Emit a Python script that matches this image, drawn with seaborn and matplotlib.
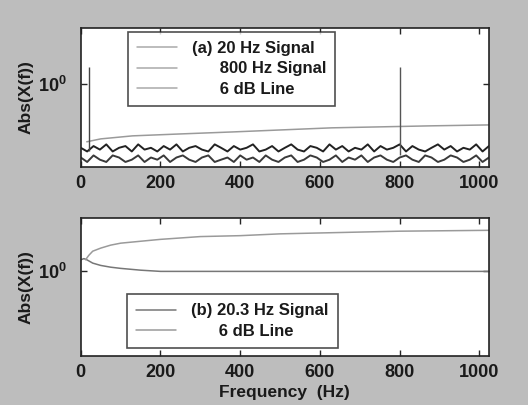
#!/usr/bin/env python3

import numpy as np
import pandas
import seaborn as sns
import matplotlib
matplotlib.use("Agg")
import matplotlib.pyplot as plt
from matplotlib.ticker import NullLocator

# ---- data ----

# (a) noise floor sampled every 16 Hz from 0 to 1024 Hz
freq_a = np.arange(0, 1040, 16)
signal_20hz = [
    0.29, 0.27, 0.30, 0.28, 0.31, 0.27, 0.29, 0.30, 0.27, 0.31, 0.28, 0.29, 0.27, 0.30, 0.28, 0.31,
    0.27, 0.29, 0.30, 0.28, 0.27, 0.31, 0.29, 0.27, 0.30, 0.28, 0.29, 0.31, 0.27, 0.28, 0.30, 0.27,
    0.29, 0.31, 0.28, 0.27, 0.30, 0.29, 0.27, 0.31, 0.28, 0.30, 0.27, 0.29, 0.28, 0.31, 0.27, 0.30,
    0.28, 0.29, 0.31, 0.27, 0.30, 0.28, 0.27, 0.29, 0.31, 0.28, 0.30, 0.27, 0.29, 0.28, 0.31, 0.27, 0.30,
]
signal_800hz = [
    0.24, 0.22, 0.25, 0.23, 0.22, 0.25, 0.24, 0.22, 0.23, 0.25, 0.22, 0.24, 0.23, 0.25, 0.22, 0.24,
    0.25, 0.23, 0.22, 0.24, 0.25, 0.22, 0.23, 0.24, 0.22, 0.25, 0.23, 0.24, 0.22, 0.25, 0.23, 0.22,
    0.24, 0.25, 0.22, 0.23, 0.25, 0.24, 0.22, 0.23, 0.25, 0.22, 0.24, 0.23, 0.25, 0.22, 0.24, 0.25,
    0.23, 0.22, 0.24, 0.25, 0.23, 0.22, 0.25, 0.24, 0.22, 0.23, 0.25, 0.24, 0.22, 0.23, 0.25, 0.22, 0.24,
]
# spectral peaks of the two tones
peak_freqs = [20, 800]
peak_base = [0.27, 0.25]
peak_top = [1.41, 1.41]

# (a) 6 dB threshold line
db_freq_a = [15, 50, 130, 250, 380, 630, 880, 1024]
db_line_a = [0.326, 0.345, 0.366, 0.380, 0.395, 0.428, 0.445, 0.453]

# (b) leaked 20.3 Hz tone and its 6 dB line
freq_b = [0, 8, 15, 20, 30, 50, 75, 100, 150, 200, 300, 400, 500, 600, 700, 800, 900, 1024]
signal_203hz = [1.10, 1.11, 1.10, 1.09, 1.07, 1.05, 1.035, 1.025, 1.01, 1.00, 1.00, 1.00,
                1.00, 1.00, 1.00, 1.00, 1.00, 1.00]
db_freq_b = [12, 20, 30, 50, 75, 100, 150, 200, 300, 400, 500, 600, 800, 1024]
db_line_b = [1.10, 1.14, 1.18, 1.21, 1.24, 1.26, 1.28, 1.30, 1.33, 1.34, 1.36, 1.37, 1.39, 1.40]

XTICKS = [0, 200, 400, 600, 800, 1000]
INK = "#1a1a1a"

sns.set_style("ticks")
plt.rcParams["font.family"] = ["Liberation Sans", "DejaVu Sans"]
plt.rcParams["font.weight"] = "bold"
plt.rcParams["mathtext.fontset"] = "custom"
plt.rcParams["mathtext.rm"] = "Liberation Sans:bold"
plt.rcParams["mathtext.it"] = "Liberation Sans:bold"


def style_axes(ax, ylim):
    """
    MATLAB look: boxed axes, inward ticks, one log label at 10^0
    """
    ax.set_yscale("log")
    ax.set_xlim(0, 1024)
    ax.set_ylim(*ylim)
    ax.set_xticks(XTICKS)
    ax.set_xticklabels([str(t) for t in XTICKS], fontsize=13, color=INK, fontweight="bold")
    ax.set_yticks([1])
    ax.set_yticklabels([r"$10^0$"], fontsize=13, color=INK)
    ax.yaxis.set_minor_locator(NullLocator())
    ax.tick_params(direction="in", top=True, right=True, length=4, width=1, pad=6)
    ax.tick_params(axis="y", pad=10)
    for spine in ax.spines.values():
        spine.set_visible(True)
        spine.set_linewidth(1.2)
        spine.set_color("#222222")
    ax.set_facecolor("white")
    ax.set_ylabel("Abs(X(f))", fontsize=12.5, color=INK, fontweight="bold", labelpad=0)
    ax.yaxis.set_label_coords(-0.115, 0.5)
    ax.set_xlabel("")


def make_legend(ax, **kw):
    leg = ax.legend(frameon=True, fancybox=False, handlelength=2.4,
                    handletextpad=0.9, borderaxespad=0, borderpad=0.55,
                    labelspacing=0.32, prop={"size": 12, "weight": "bold"}, **kw)
    leg.get_frame().set_edgecolor("#222222")
    leg.get_frame().set_linewidth(1.2)
    for text in leg.get_texts():
        text.set_color(INK)
    return leg


def main():
    fig = plt.figure(figsize=(5.28, 4.05), dpi=100)
    fig.patch.set_facecolor("#bdbdbd")

    top = fig.add_axes([0.153, 0.588, 0.773, 0.343])
    bottom = fig.add_axes([0.153, 0.121, 0.773, 0.341])

    df_a = pandas.DataFrame({"freq": freq_a, "s20": signal_20hz, "s800": signal_800hz})
    sns.lineplot(data=df_a, x="freq", y="s20", ax=top, color="#222222", lw=1.4,
                 label="(a) 20 Hz Signal")
    sns.lineplot(data=df_a, x="freq", y="s800", ax=top, color="#3a3a3a", lw=1.4,
                 label="      800 Hz Signal")
    sns.lineplot(x=db_freq_a, y=db_line_a, ax=top, color="#9a9a9a", lw=1.1,
                 label="      6 dB Line")
    top.vlines(peak_freqs[0], peak_base[0], peak_top[0], color="#444444", lw=1.0)
    top.vlines(peak_freqs[1], peak_base[1], peak_top[1], color="#555555", lw=1.0)
    style_axes(top, (0.2, 3.0))
    make_legend(top, loc="upper left", bbox_to_anchor=(0.115, 0.971))
    # legend lines look pale in the scan
    for line in top.get_legend().get_lines():
        line.set_color("#aaaaaa")
        line.set_linewidth(1.1)

    sns.lineplot(x=freq_b, y=signal_203hz, ax=bottom, color="#777777", lw=1.1,
                 label="(b) 20.3 Hz Signal")
    sns.lineplot(x=db_freq_b, y=db_line_b, ax=bottom, color="#9a9a9a", lw=1.1,
                 label="      6 dB Line")
    style_axes(bottom, (0.5, 1.55))
    bottom.set_xlabel("Frequency  (Hz)", fontsize=12.5, color=INK, fontweight="bold",
                      labelpad=3)
    make_legend(bottom, loc="lower left", bbox_to_anchor=(0.113, 0.058))

    fig.savefig("out.png", dpi=100, facecolor=fig.get_facecolor())
    plt.close(fig)


if __name__ == "__main__":
    main()
